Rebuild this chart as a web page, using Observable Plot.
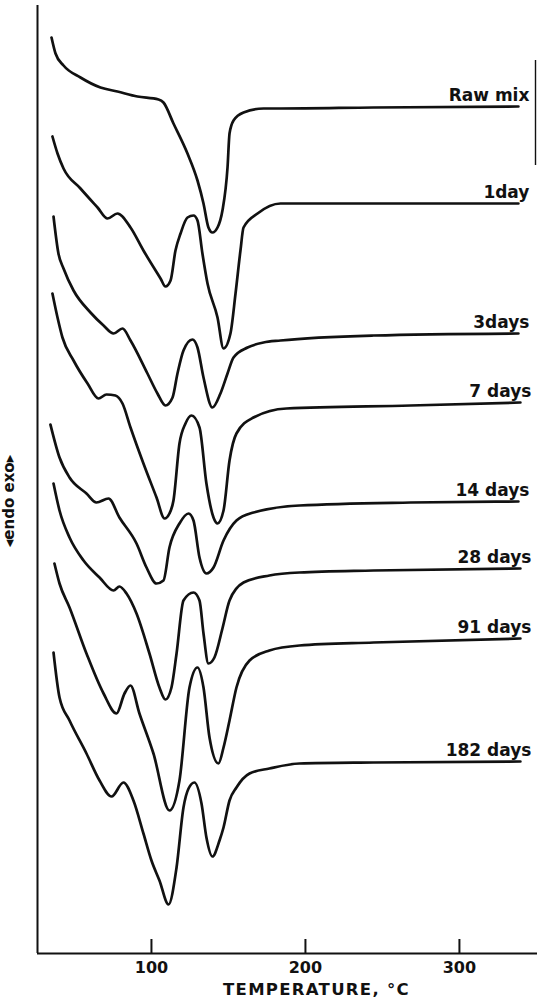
<!DOCTYPE html>
<html>
<head>
<meta charset="utf-8">
<script src="https://cdn.jsdelivr.net/npm/d3@7"></script>
<script src="https://cdn.jsdelivr.net/npm/@observablehq/plot@0.6"></script>
<style>
  html, body { margin: 0; padding: 0; background: #fff; }
  #chart svg { display: block; }
</style>
</head>
<body>
<div id="chart"></div>
<script>
// Curve names (label at the right end of each trace)
const seriesNames = ["Raw mix", "1day", "3days", "7 days", "14 days", "28 days", "91 days", "182 days"];

// Each trace: [temperature °C, signal (arbitrary units, offset per trace)]
const rawMix = [[35.1,916],[37.7,900],[42.9,888],[53.9,876],[66.9,866],[77.9,862],[90.9,857],[104.6,854],[107.8,851],
  [114.3,830],[123.4,800],[129.9,773],[133.8,750],[137.0,726],[139.6,721],[142.9,726],[146.1,743],[149.4,786],
  [150.7,820],[153.3,833],[159.8,841],[172.8,845],[183.8,845],[244.2,846],[338.3,847]];
const day1 = [[35.7,817],[39.0,800],[42.9,785],[53.9,765],[65.0,746],[71.5,735],[77.9,740],[86.4,726],[94.8,703],
  [105.9,675],[109.1,667],[112.4,673],[115.6,703],[118.9,720],[123.4,736],[127.3,738],[129.9,733],
  [133.1,700],[136.4,670],[142.9,636],[146.8,605],[151.3,620],[154.6,660],[157.8,703],[159.8,726],[168.9,740],
  [183.8,750],[244.2,750],[338.3,750]];
const day3 = [[36.4,737],[39.6,700],[42.9,685],[49.4,663],[60.4,641],[68.9,628],[75.4,620],[81.2,625],[86.4,613],
  [97.4,580],[103.9,560],[109.1,548],[113.7,556],[116.9,580],[120.8,603],[126.6,614],[129.9,606],[133.8,576],
  [139.6,546],[144.8,560],[149.4,580],[153.3,596],[162.4,606],[172.8,611],[183.8,613],[244.2,618],[338.3,620]];
const day7 = [[35.7,660],[39.0,636],[42.2,616],[49.4,593],[58.5,570],[65.6,555],[70.8,559],[76.6,558],[81.2,550],
  [86.4,526],[94.8,490],[103.3,456],[108.5,435],[111.7,440],[114.3,453],[118.2,510],[122.1,530],[126.0,538],
  [131.2,526],[135.7,470],[140.3,436],[142.9,430],[146.8,443],[150.7,493],[155.2,520],[166.3,536],[187.7,545],
  [268.3,548],[339.6,551]];
const day14 = [[34.4,529],[40.3,496],[46.8,476],[57.8,460],[64.3,451],[72.1,455],[79.2,436],[90.3,410],[96.8,386],
  [103.3,370],[107.8,373],[111.7,406],[118.2,430],[124.1,440],[127.3,433],[131.2,396],[135.7,380],[140.3,386],
  [146.8,413],[155.2,433],[166.3,441],[196.1,448],[268.3,451],[338.3,452]];
const day28 = [[36.4,470],[40.3,443],[46.8,416],[55.9,393],[66.3,376],[75.4,363],[79.2,367],[83.8,360],[90.3,340],
  [98.7,300],[105.2,266],[109.1,254],[113.0,266],[116.3,300],[120.8,353],[127.3,361],[131.2,353],[133.8,320],
  [137.0,290],[140.9,296],[146.1,325],[150.7,353],[159.8,371],[176.6,378],[196.1,381],[244.2,383],[339.6,385]];
const day91 = [[37.0,390],[40.3,370],[46.8,346],[57.8,300],[68.9,260],[77.3,240],[82.5,260],[86.4,268],[92.2,240],
  [101.3,200],[111.7,143],[118.2,173],[124.7,266],[129.9,286],[133.8,266],[137.7,216],[143.5,190],[146.8,206],
  [150.7,233],[155.2,266],[163.7,293],[176.6,303],[196.1,308],[244.2,311],[339.6,315]];
const day182 = [[36.4,301],[40.3,256],[46.8,233],[57.8,200],[66.3,173],[74.1,157],[81.8,171],[88.3,153],[94.8,120],
  [100.0,93],[105.2,73],[111.1,49],[116.3,86],[120.8,146],[124.1,165],[127.9,171],[132.5,150],[135.7,116],[139.6,97],
  [144.2,113],[146.8,126],[150.7,153],[155.2,166],[163.7,180],[176.6,185],[196.1,190],[244.2,191],[339.6,192]];

const temperatureTicks = [100, 200, 300];
const xDomain = [26, 349.4];
const yDomain = [0, 953];
const xLabel = "TEMPERATURE, °C";
const yLabel = "◂endo exo▸";

const seriesData = [rawMix, day1, day3, day7, day14, day28, day91, day182];
const rows = seriesNames.flatMap((name, i) => seriesData[i].map(([t, v]) => ({series: name, t, v})));
const labels = seriesNames.map((name, i) => {
  const p = seriesData[i][seriesData[i].length - 1];
  return {series: name, t: p[0], v: p[1]};
});

const W = 537, H = 998, mT = 0, mR = 2, mB = 45, mL = 37;
const ink = "#111";
const chart = Plot.plot({
  width: W,
  height: H,
  marginTop: mT,
  marginRight: mR,
  marginBottom: mB,
  marginLeft: mL,
  x: {domain: xDomain},
  y: {domain: yDomain, axis: null},
  style: {fontFamily: "'DejaVu Sans', sans-serif", fontWeight: "bold", background: "#fff", color: ink},
  marks: [
    Plot.ruleX([xDomain[0]], {y1: 0, y2: 948, strokeWidth: 2, stroke: ink}),
    Plot.ruleY([0], {x1: xDomain[0], x2: 351, strokeWidth: 2.2, stroke: ink}),
    Plot.ruleX(temperatureTicks, {y1: 0, y2: 14, strokeWidth: 2, stroke: ink}),
    Plot.ruleX([xDomain[1]], {y1: 788, y2: 893, strokeWidth: 1.4, stroke: ink}),
    Plot.axisX(temperatureTicks, {tickSize: 0, tickPadding: 8, fontSize: 16, fontWeight: "bold", label: null}),
    Plot.line(rows, {x: "t", y: "v", z: "series", curve: "monotone-x", strokeWidth: 2.7, stroke: ink,
      strokeLinejoin: "round", strokeLinecap: "round"}),
    Plot.text(labels, {x: "t", y: "v", text: "series", textAnchor: "end", lineAnchor: "bottom",
      dx: 11, dy: -6, fontSize: 17, fontWeight: "bold", fill: ink}),
    Plot.text([xLabel], {frameAnchor: "bottom", lineAnchor: "middle", dx: 30, dy: 36,
      fontSize: 16.5, fontWeight: "bold", fill: ink}),
    Plot.text([yLabel], {frameAnchor: "left", textAnchor: "middle", rotate: -90, fontSize: 15,
      fontWeight: "bold", fill: ink})
  ]
});

const svg = d3.select(chart);
svg.selectAll("text").filter(function() { return this.textContent === xLabel; })
  .attr("letter-spacing", "1.3px");
// place the rotated endo/exo label in the left margin, centred a little below the frame middle
svg.selectAll("text").filter(function() { return this.textContent === yLabel; })
  .attr("x", null).attr("y", null).attr("text-anchor", "middle")
  .attr("transform", `translate(${mL - 24},${(mT + H - mB) / 2 + 24}) rotate(-90)`);

document.getElementById("chart").appendChild(chart);
</script>
</body>
</html>
